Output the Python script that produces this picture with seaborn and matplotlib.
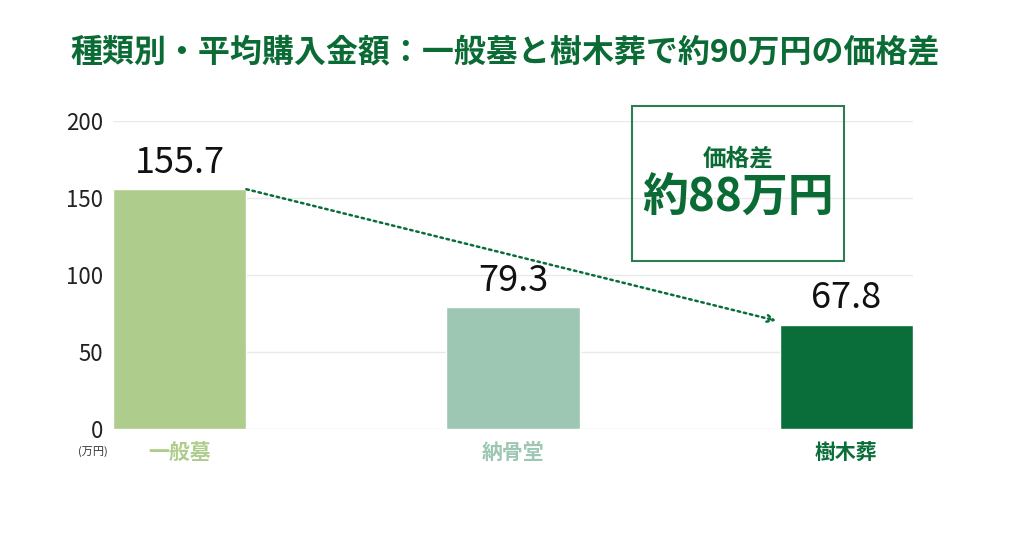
import matplotlib
matplotlib.use("Agg")
import matplotlib.pyplot as plt
import seaborn as sns
import pandas as pd
from matplotlib.patches import Rectangle

categories = ["一般墓", "納骨堂", "樹木葬"]
values = [155.7, 79.3, 67.8]
colors = ["#aecd8c", "#9dc6b3", "#0a6e3a"]
yticks = [0, 50, 100, 150, 200]
title = "種類別・平均購入金額：一般墓と樹木葬で約90万円の価格差"
box_top = "価格差"
box_main = "約88万円"
unit = "(万円)"

sns.set_theme(style="white")
plt.rcParams['font.family'] = ['Noto Sans CJK JP', 'DejaVu Sans']

df = pd.DataFrame({"cat": categories, "val": values})

fig = plt.figure(figsize=(10.24, 5.38), dpi=100)
ax = fig.add_axes([0.1104, 0.2026, 0.7812, 0.5725])

sns.barplot(data=df, x="cat", y="val", hue="cat", palette=colors,
            width=0.4, legend=False, ax=ax, saturation=1, zorder=3)

ax.set_xlim(-0.2, 2.2)
ax.set_ylim(0, 200)
ax.set_yticks(yticks)
ax.set_yticklabels([str(t) for t in yticks], fontsize=16, color="#222222")
ax.tick_params(axis="y", length=0, pad=7)
ax.tick_params(axis="x", length=0, pad=9)
for t in yticks:
    ax.axhline(t, color="#e9e9e9", lw=1, zorder=1)
for s in ax.spines.values():
    s.set_visible(False)
ax.set_xlabel("")
ax.set_ylabel("")
ax.set_xticks(range(len(categories)))
ax.set_xticklabels(categories, fontsize=15, fontweight="bold")
for lbl, c in zip(ax.get_xticklabels(), colors):
    lbl.set_color(c)

for i, v in enumerate(values):
    ax.annotate(f"{v}", (i, v), xytext=(0, 6), textcoords="offset points",
                ha="center", va="bottom", fontsize=26, color="#111111")

# dotted arrow from bar 1 top-right to bar 3 top-left
ax.annotate("", xy=(1.79, values[2] + 2.5), xytext=(0.2, values[0]),
            arrowprops=dict(arrowstyle="->", linestyle=(0, (1, 1.5)),
                            color="#0a6e3a", lw=1.8, shrinkA=0, shrinkB=0),
            zorder=4)

fig.text(0.1104 - 0.005, 0.16, unit, fontsize=8, ha="right", va="center", color="#333333")

fig.text(0.493, 0.901, title, fontsize=23, fontweight="bold", ha="center",
         va="center", color="#0b6b35")

fig.patches.append(Rectangle((0.617, 0.515), 0.207, 0.288, transform=fig.transFigure,
                             fill=False, edgecolor="#2e7d52", lw=1.5))
fig.text(0.7205, 0.706, box_top, fontsize=17, fontweight="bold", ha="center",
         va="center", color="#0b6b35")
fig.text(0.7205, 0.630, box_main, fontsize=33, fontweight="bold", ha="center",
         va="center", color="#0b6b35")

fig.savefig("out.png", dpi=100, facecolor="white")
